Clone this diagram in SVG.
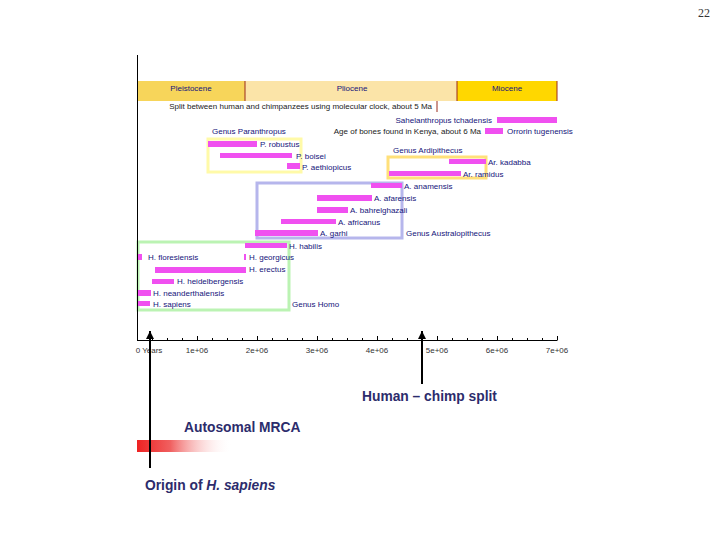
<svg xmlns="http://www.w3.org/2000/svg" width="720" height="540" viewBox="0 0 720 540">
<defs>
<style>
.t{font-family:"Liberation Sans",Arial,sans-serif;font-size:8px;fill:#14147a}
.k{font-family:"Liberation Sans",Arial,sans-serif;font-size:8px;fill:#222}
.ax{font-family:"Liberation Sans",Arial,sans-serif;font-size:8px;fill:#333;text-anchor:middle}
.big{font-family:"Liberation Sans",Arial,sans-serif;font-size:13.8px;font-weight:bold;fill:#2c2c6c}
.bar{fill:#f050f0}
.box{fill:none;stroke-width:3}
.sep{stroke:#9b2a1a;stroke-width:1}
.tick{stroke:#000;stroke-width:1}
</style>
<marker id="ah" viewBox="0 0 10 10" refX="10" refY="5" markerWidth="4" markerHeight="4" orient="auto" markerUnits="strokeWidth">
<path d="M0,0 L10,5 L0,10 z" fill="#000"/>
</marker>
<linearGradient id="grad" x1="0" y1="0" x2="1" y2="0">
<stop offset="0" stop-color="#ee2222"/>
<stop offset="0.35" stop-color="#f06060"/>
<stop offset="1" stop-color="#ffffff" stop-opacity="0"/>
</linearGradient>
</defs>
<rect width="720" height="540" fill="#fff"/>
<text x="704" y="17" font-family="Liberation Serif,serif" font-size="12" fill="#333" text-anchor="middle">22</text>

<g id="epochs">
<rect x="138" y="81" width="107" height="20" fill="#f7d55a"/>
<rect x="245" y="81" width="212" height="20" fill="#fbe4a8"/>
<rect x="457" y="81" width="100" height="20" fill="#ffd700"/>
<line class="sep" x1="245" y1="81" x2="245" y2="101"/>
<line class="sep" x1="457" y1="81" x2="457" y2="101"/>
<line class="sep" x1="557" y1="81" x2="557" y2="101"/>
<text class="t" x="191" y="91" text-anchor="middle">Pleistocene</text>
<text class="t" x="352" y="91" text-anchor="middle">Pliocene</text>
<text class="t" x="507" y="91" text-anchor="middle">Miocene</text>
</g>

<g id="split-note">
<line class="sep" x1="437" y1="101" x2="437" y2="112"/>
<text class="k" x="432" y="109" text-anchor="end">Split between human and chimpanzees using molecular clock, about 5 Ma</text>
</g>

<g id="sahelanthropus">
<rect class="bar" x="497" y="117" width="60" height="6"/>
<text class="t" x="492" y="123" text-anchor="end">Sahelanthropus tchadensis</text>
</g>
<g id="orrorin">
<rect class="bar" x="485" y="128" width="18" height="6"/>
<text class="k" x="481" y="134" text-anchor="end">Age of bones found in Kenya, about 6 Ma</text>
<text class="t" x="507" y="134">Orrorin tugenensis</text>
</g>

<g id="paranthropus">
<rect class="box" x="208" y="139" width="93" height="33" stroke="#fffaa8"/>
<text class="t" x="212" y="134">Genus Paranthropus</text>
<rect class="bar" x="208" y="141" width="49" height="6"/>
<text class="t" x="260" y="147">P. robustus</text>
<rect class="bar" x="220" y="153" width="72" height="5"/>
<text class="t" x="296" y="159">P. boisei</text>
<rect class="bar" x="287" y="163" width="13" height="6"/>
<text class="t" x="302" y="170">P. aethiopicus</text>
</g>

<g id="ardipithecus">
<rect class="box" x="388" y="157" width="98" height="21" stroke="#ffe07a"/>
<text class="t" x="393" y="153">Genus Ardipithecus</text>
<rect class="bar" x="449" y="159" width="37" height="5"/>
<text class="t" x="488" y="165">Ar. kadabba</text>
<rect class="bar" x="389" y="171" width="72" height="5"/>
<text class="t" x="463" y="177">Ar. ramidus</text>
</g>

<g id="australopithecus">
<rect class="box" x="257" y="183" width="145" height="55" stroke="#b6b6ec"/>
<rect class="bar" x="371" y="183" width="31" height="5"/>
<text class="t" x="404" y="189">A. anamensis</text>
<rect class="bar" x="317" y="195" width="55" height="6"/>
<text class="t" x="374" y="201">A. afarensis</text>
<rect class="bar" x="317" y="207" width="31" height="6"/>
<text class="t" x="350" y="213">A. bahrelghazali</text>
<rect class="bar" x="281" y="219" width="55" height="5"/>
<text class="t" x="338" y="225">A. africanus</text>
<rect class="bar" x="255" y="230" width="63" height="6"/>
<text class="t" x="320" y="236">A. garhi</text>
<text class="t" x="406" y="236">Genus Australopithecus</text>
</g>

<g id="homo">
<rect class="box" x="138" y="242" width="151" height="68" stroke="#bbf3b3"/>
<rect class="bar" x="245" y="243" width="42" height="5"/>
<text class="t" x="289" y="249">H. habilis</text>
<rect class="bar" x="138" y="254" width="4" height="6"/>
<text class="t" x="148" y="260">H. floresiensis</text>
<rect class="bar" x="244" y="254" width="2" height="6"/>
<text class="t" x="249" y="260">H. georgicus</text>
<rect class="bar" x="155" y="267" width="91" height="6"/>
<text class="t" x="249" y="272">H. erectus</text>
<rect class="bar" x="152" y="279" width="22" height="5"/>
<text class="t" x="177" y="284">H. heidelbergensis</text>
<rect class="bar" x="138" y="290" width="13" height="6"/>
<text class="t" x="153" y="296">H. neanderthalensis</text>
<rect class="bar" x="138" y="301" width="12" height="5"/>
<text class="t" x="153" y="307">H. sapiens</text>
<text class="t" x="292" y="307">Genus Homo</text>
</g>

<g id="axis">
<line class="tick" x1="137.5" y1="55" x2="137.5" y2="340.5"/>
<line class="tick" x1="137" y1="340.5" x2="557.5" y2="340.5"/>
<path class="tick" d="M137.5,340 v-4 M197.5,340 v-4 M257.5,340 v-4 M317.5,340 v-4 M377.5,340 v-4 M437.5,340 v-4 M497.5,340 v-4 M557.5,340 v-4"/>
<path class="tick" stroke-width="0.8" d="M152.5,340 v-2 M167.5,340 v-2 M182.5,340 v-2 M212.5,340 v-2 M227.5,340 v-2 M242.5,340 v-2 M272.5,340 v-2 M287.5,340 v-2 M302.5,340 v-2 M332.5,340 v-2 M347.5,340 v-2 M362.5,340 v-2 M392.5,340 v-2 M407.5,340 v-2 M422.5,340 v-2 M452.5,340 v-2 M467.5,340 v-2 M482.5,340 v-2 M512.5,340 v-2 M527.5,340 v-2 M542.5,340 v-2"/>
<text class="ax" x="149" y="353">0 Years</text>
<text class="ax" x="197" y="353">1e+06</text>
<text class="ax" x="257" y="353">2e+06</text>
<text class="ax" x="317" y="353">3e+06</text>
<text class="ax" x="377" y="353">4e+06</text>
<text class="ax" x="437" y="353">5e+06</text>
<text class="ax" x="497" y="353">6e+06</text>
<text class="ax" x="557" y="353">7e+06</text>
</g>

<rect id="mrca-bar" x="137" y="440" width="95" height="12" fill="url(#grad)"/>

<g id="connectors" stroke="#000" stroke-width="2" fill="none">
<line x1="150" y1="468" x2="150" y2="331" marker-end="url(#ah)"/>
<line x1="422" y1="384" x2="422" y2="331" marker-end="url(#ah)"/>
</g>

<g id="labels">
<text class="big" x="362" y="401">Human – chimp split</text>
<text class="big" x="184" y="432">Autosomal MRCA</text>
<text class="big" x="145" y="490">Origin of <tspan font-style="italic">H. sapiens</tspan></text>
</g>
</svg>
